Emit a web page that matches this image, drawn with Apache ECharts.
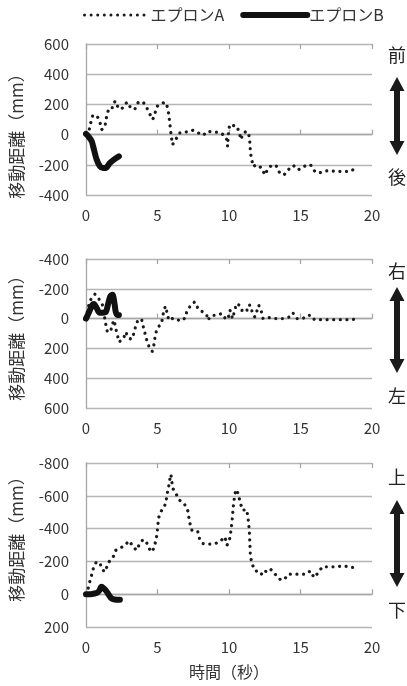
<!DOCTYPE html>
<html>
<head>
<meta charset="utf-8">
<script src="https://cdn.jsdelivr.net/npm/echarts@6/dist/echarts.min.js"></script>
<style>
html,body{margin:0;padding:0;background:#fff;}
#c{width:407px;height:686px;}
</style>
</head>
<body>
<div id="c"></div>
<script>
// ---- data ----
const seriesNames = ['エプロンA', 'エプロンB'];
const xTicks = [0, 5, 10, 15, 20];
const axisNameY = '移動距離（mm）';
const axisNameX = '時間（秒）';
const dirLabels = [['前', '後'], ['右', '左'], ['上', '下']];

// Chart 1: forward / backward
const fbA_t = [0,0.23,0.33,0.47,0.79,0.98,1.1,1.33,1.4,1.5,1.63,1.86,2.03,2.19,2.49,2.68,2.91,3.15,3.43,3.66,4.0,4.25,4.48,4.67,4.83,5.0,5.25,5.42,5.6,5.72,5.8,5.87,5.92,5.98,6.05,6.3,6.53,6.8,7.15,7.45,7.85,8.2,8.5,8.9,9.27,9.6,9.85,9.9,9.98,10.07,10.3,10.55,10.73,10.83,11.0,11.25,11.35,11.42,11.47,11.5,11.6,11.67,11.95,12.3,12.5,12.75,13.05,13.35,13.55,13.85,14.15,14.5,14.85,15.2,15.7,16.0,16.3,16.6,17.0,17.5,18.0,18.45,18.9];
const fbA_v = [0,33,78,127,122,78,33,55,100,144,178,178,222,189,167,200,215,171,171,215,215,178,133,100,144,189,200,211,211,171,122,67,22,-22,-67,-29,11,11,22,29,11,-4,22,16,16,0,-33,-78,33,67,60,55,11,-33,11,22,27,-11,-67,-122,-167,-211,-200,-222,-267,-222,-200,-211,-255,-267,-233,-205,-233,-211,-200,-244,-255,-244,-238,-244,-244,-244,-222];
const fbB_t = [0,0.16,0.4,0.5,0.75,0.98,1.2,1.43,1.66,2.0,2.3];
const fbB_v = [5,-11,-44,-78,-167,-211,-222,-218,-189,-162,-144];

// Chart 2: right / left
const lrA_t = [0,0.16,0.3,0.63,0.93,1.16,1.32,1.41,1.5,1.74,1.85,1.97,2.08,2.2,2.31,2.62,2.78,2.96,3.17,3.36,3.47,3.63,3.89,4.0,4.12,4.24,4.4,4.63,4.75,4.81,4.93,5.09,5.25,5.35,5.44,5.56,5.67,5.79,6.13,6.6,6.94,7.06,7.34,7.6,7.87,8.17,8.45,8.5,8.8,9.14,9.5,9.8,9.95,10.07,10.25,10.4,10.53,10.72,10.88,11.23,11.34,11.5,11.62,11.8,11.97,12.08,12.27,12.38,12.85,13.3,13.77,14.24,14.47,14.75,15.16,15.5,15.74,15.97,16.4,16.9,17.36,17.9,18.4,19.0];
const lrA_v = [0,-79,-123,-164,-128,-90,4,52,92,79,34,11,67,112,157,135,90,128,139,97,52,11,4,52,97,141,186,220,175,135,79,52,38,0,-56,-83,-38,11,-4,16,-4,-52,-90,-112,-61,-45,-22,11,-22,-22,-34,7,-7,-56,0,-56,-101,-90,-56,-45,-90,-90,-45,-11,-56,-90,-45,0,-7,0,0,-11,-38,0,0,-22,-22,7,7,7,7,7,7,4];
const lrB_t = [0,0.2,0.4,0.55,0.75,0.95,1.16,1.39,1.55,1.7,1.85,1.98,2.08,2.2,2.3];
const lrB_v = [0,-40,-85,-98,-70,-40,-40,-45,-100,-150,-160,-110,-45,-25,-25];

// Chart 3: up / down
const udA_t = [0,0.09,0.23,0.39,0.51,0.7,0.97,1.09,1.32,1.48,1.67,1.9,2.09,2.32,2.55,2.78,3.02,3.3,3.53,3.76,3.99,4.22,4.41,4.64,4.8,4.92,4.99,5.08,5.27,5.5,5.61,5.68,5.78,5.85,5.94,6.0,6.08,6.31,6.54,6.89,7.12,7.24,7.42,7.82,7.94,8.17,8.58,9.05,9.44,9.67,9.79,9.86,9.98,10.07,10.14,10.21,10.26,10.32,10.42,10.53,10.67,10.77,10.95,11.23,11.32,11.42,11.46,11.5,11.65,11.88,12.11,12.34,12.58,12.88,13.16,13.39,13.62,13.92,14.15,14.55,15.0,15.36,15.7,15.94,16.24,16.52,16.98,17.45,18.03,18.5,18.84];
const udA_v = [0,-14,-65,-116,-156,-193,-193,-156,-136,-171,-207,-228,-268,-278,-289,-305,-325,-289,-268,-309,-333,-319,-278,-258,-299,-339,-390,-467,-508,-537,-573,-614,-654,-695,-730,-685,-644,-610,-573,-549,-508,-441,-386,-380,-339,-309,-305,-309,-325,-350,-329,-299,-319,-346,-390,-441,-492,-553,-614,-638,-604,-563,-512,-516,-472,-390,-309,-228,-177,-140,-142,-116,-140,-156,-126,-110,-85,-96,-122,-122,-122,-122,-142,-102,-130,-167,-167,-167,-173,-163,-163];
const udB_t = [0,0.3,0.6,0.8,0.95,1.08,1.25,1.43,1.6,1.78,2.0,2.37];
const udB_v = [0,0,-4,-10,-25,-45,-35,-18,5,26,32,34];

const yMins = [-400, -400, -800];
const yMaxs = [600, 600, 200];
const yInverse = [false, true, true];

// ---- build ----
function pairs(t, v) { return t.map((x, i) => [x, v[i]]); }
const dataSets = [
  [pairs(fbA_t, fbA_v), pairs(fbB_t, fbB_v)],
  [pairs(lrA_t, lrA_v), pairs(lrB_t, lrB_v)],
  [pairs(udA_t, udA_v), pairs(udB_t, udB_v)]
];

const FONT = '"Noto Sans CJK JP", "Noto Sans", sans-serif';
const TXT = '#333';
const DOT = [0.01, 6.6];
const grids = [
  {left: 86, right: 35, top: 44, height: 151},
  {left: 86, right: 35, top: 259, height: 149},
  {left: 86, right: 35, top: 463, height: 164}
];

const xAxes = [], yAxes = [], series = [];
grids.forEach((g, gi) => {
  const base = {type: 'value', gridIndex: gi, min: xTicks[0], max: xTicks[xTicks.length - 1], interval: 5, splitLine: {show: false}};
  xAxes.push(Object.assign({}, base, {
    position: 'bottom',
    axisLine: {show: false, onZero: false},
    axisTick: {show: false},
    axisLabel: {show: true, margin: 13, fontSize: 15, color: TXT, fontFamily: FONT},
    name: gi === 2 ? axisNameX : '',
    nameLocation: 'middle', nameGap: 37,
    nameTextStyle: {fontSize: 16, color: TXT, fontFamily: FONT, verticalAlign: 'top'}
  }));
  xAxes.push(Object.assign({}, base, {
    axisLine: {show: true, onZero: true, lineStyle: {color: '#a6a6a6', width: 1.3}},
    axisTick: {show: true, inside: false, length: 5, lineStyle: {color: '#a6a6a6', width: 1.3}},
    axisLabel: {show: false}
  }));
  xAxes.push(Object.assign({}, base, {
    axisLine: {show: false, onZero: true},
    axisTick: {show: true, inside: true, length: 5, lineStyle: {color: '#a6a6a6', width: 1.3}},
    axisLabel: {show: false}
  }));
  yAxes.push({
    type: 'value', gridIndex: gi, min: yMins[gi], max: yMaxs[gi], interval: 200, inverse: yInverse[gi],
    axisLine: {show: true, lineStyle: {color: '#a6a6a6', width: 1.3}},
    axisTick: {show: false},
    axisLabel: {margin: 17, fontSize: 15, color: TXT, fontFamily: FONT},
    splitLine: {show: true, lineStyle: {color: '#b5b5b5', width: 1.3}}
  });
  series.push({
    name: seriesNames[0], type: 'line', xAxisIndex: gi * 3, yAxisIndex: gi,
    data: dataSets[gi][0], symbol: 'none', showSymbol: false, smooth: false,
    lineStyle: {color: '#1a1a1a', width: 3.2, type: DOT, cap: 'round', join: 'round'},
    itemStyle: {color: '#1a1a1a'}, z: 3
  });
  series.push({
    name: seriesNames[1], type: 'line', xAxisIndex: gi * 3, yAxisIndex: gi,
    data: dataSets[gi][1], symbol: 'none', showSymbol: false, smooth: 0.3,
    lineStyle: {color: '#111', width: 6, cap: 'round', join: 'round'},
    itemStyle: {color: '#111'}, z: 4
  });
});

// right-side direction labels and arrows
const dirPos = [[55, 177, 77, 155], [271, 396, 287, 373], [477, 610, 500, 587]];
const graphics = [];
const AX = 397;
dirPos.forEach((p, i) => {
  graphics.push({type: 'text', x: AX, y: p[0], style: {text: dirLabels[i][0], font: '18px ' + FONT, fill: '#222', align: 'center', verticalAlign: 'middle'}});
  graphics.push({type: 'text', x: AX, y: p[1], style: {text: dirLabels[i][1], font: '18px ' + FONT, fill: '#222', align: 'center', verticalAlign: 'middle'}});
  const t = p[2], b = p[3], hh = 14, hw = 7.5, sw = 3;
  graphics.push({type: 'polygon', shape: {points: [
    [AX, t], [AX + hw, t + hh], [AX + sw, t + hh], [AX + sw, b - hh], [AX + hw, b - hh], [AX, b],
    [AX - hw, b - hh], [AX - sw, b - hh], [AX - sw, t + hh], [AX - hw, t + hh]
  ]}, style: {fill: '#1a1a1a'}});
});
// y-axis names (rotated)
[132, 334, 535].forEach(cy => {
  graphics.push({type: 'text', x: 17, y: cy, rotation: Math.PI / 2,
    style: {text: axisNameY, font: '17px ' + FONT, fill: TXT, align: 'center', verticalAlign: 'middle'}});
});

const chart = echarts.init(document.getElementById('c'));
chart.setOption({
  animation: false,
  backgroundColor: '#fff',
  legend: {
    data: [
      {name: seriesNames[0], lineStyle: {width: 3, type: DOT, cap: 'round', color: '#1a1a1a'}},
      {name: seriesNames[1], lineStyle: {width: 6, cap: 'round', color: '#111'}}
    ],
    left: 83, top: 7, padding: 0, itemWidth: 64, itemHeight: 14, itemGap: 16,
    itemStyle: {color: 'rgba(0,0,0,0)', borderColor: 'rgba(0,0,0,0)', borderWidth: 0},
    textStyle: {fontSize: 16, color: TXT, fontFamily: FONT, padding: [0, 0, 0, -3]}
  },
  grid: grids,
  xAxis: xAxes,
  yAxis: yAxes,
  series: series,
  graphic: graphics
});
</script>
</body>
</html>
